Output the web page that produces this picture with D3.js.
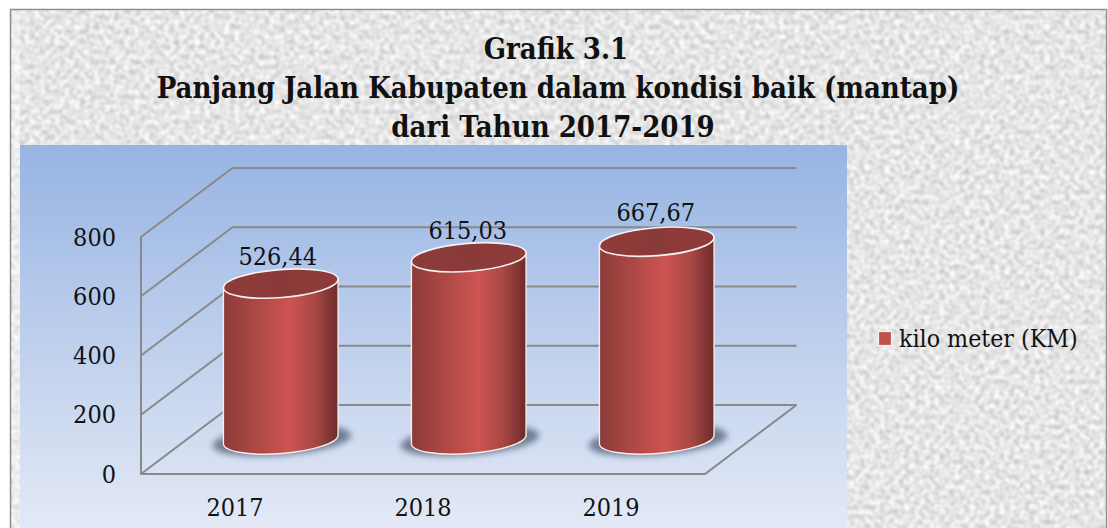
<!DOCTYPE html>
<html><head><meta charset="utf-8">
<script src="https://cdn.jsdelivr.net/npm/d3@7/dist/d3.min.js"></script>
<style>html,body{margin:0;padding:0;background:#fff;overflow:hidden}svg{display:block}
text{font-family:"DejaVu Serif Condensed","Liberation Serif",serif;fill:#111}</style></head><body>
<svg id="c" width="1108" height="528"></svg>
<script>
const titleLines = ["Grafik 3.1","Panjang Jalan Kabupaten dalam kondisi baik (mantap)","dari Tahun 2017-2019"];
const categories = ["2017","2018","2019"];
const values = [526.44,615.03,667.67];
const valueLabels = ["526,44","615,03","667,67"];
const yTicks = [0,200,400,600,800];
const seriesName = "kilo meter (KM)";

const svg = d3.select("#c"), defs = svg.append("defs");
const x0=141,x1=705,y0=474,y1=237,dx=91.5,dy=-69;
const y=d3.scaleLinear().domain([0,800]).range([y0,y1]);
const x=d3.scaleBand().domain(categories).range([x0,x1]);
const FF="'DejaVu Serif Condensed','Liberation Serif',serif";

// backgrounds
const tex=defs.append("filter").attr("id","tex").attr("x",0).attr("y",0).attr("width","100%").attr("height","100%").attr("color-interpolation-filters","sRGB");
tex.append("feTurbulence").attr("type","fractalNoise").attr("baseFrequency",0.2).attr("numOctaves",3).attr("seed",7);
tex.append("feColorMatrix").attr("values","0.42 0 0 0 0.69  0.42 0 0 0 0.69  0.42 0 0 0 0.69  0 0 0 0 1");
tex.append("feGaussianBlur").attr("stdDeviation",0.8);
const pg=defs.append("linearGradient").attr("id","panel").attr("x1",0).attr("y1",0).attr("x2",0).attr("y2",1);
pg.append("stop").attr("offset",0).attr("stop-color","#97b4e3");
pg.append("stop").attr("offset",1).attr("stop-color","#e3e9f6");
const bg=defs.append("linearGradient").attr("id","body");
[[0,"#8a3a38"],[.12,"#9a413e"],[.58,"#cd5451"],[.8,"#a84744"],[1,"#6b2b2a"]].forEach(s=>bg.append("stop").attr("offset",s[0]).attr("stop-color",s[1]));
const tg=defs.append("linearGradient").attr("id","top");
[[0,"#8e3c3a"],[.5,"#8a3a38"],[1,"#8f3c3a"]].forEach(s=>tg.append("stop").attr("offset",s[0]).attr("stop-color",s[1]));
defs.append("filter").attr("id","blur").attr("x","-30%").attr("y","-60%").attr("width","160%").attr("height","220%")
  .append("feGaussianBlur").attr("stdDeviation",3);

svg.append("rect").attr("x",10).attr("y",9).attr("width",1097).attr("height",530).attr("filter","url(#tex)");
svg.append("rect").attr("x",10.5).attr("y",9.5).attr("width",1096).attr("height",530).attr("fill","none").attr("stroke","#8e8e8e").attr("stroke-width",1.5);
svg.append("rect").attr("x",12).attr("y",11).attr("width",8).attr("height",520).attr("fill","#fff").attr("opacity",.35);
svg.append("rect").attr("x",20).attr("y",145).attr("width",827).attr("height",383).attr("fill","url(#panel)");

// title
const tx=[556,558,553], ty=[59,98,137];
svg.selectAll(".t").data(titleLines).join("text").attr("class","t")
  .attr("x",(d,i)=>tx[i]).attr("y",(d,i)=>ty[i]).attr("text-anchor","middle")
  .attr("font-size",29).attr("font-weight","bold").attr("fill","#000").text(d=>d);

// grid
const grid=svg.append("g").attr("fill","none").attr("stroke","#898989").attr("stroke-width",2);
grid.selectAll("path.g").data(yTicks).join("path").attr("class","g")
  .attr("d",v=>`M${x0},${y(v)}L${x0+dx},${y(v)+dy}H${x1+dx}`);
grid.append("path").attr("d",`M${x0},${y1}V${y0}H${x1}L${x1+dx},${y0+dy}`);

// axes
const ax=svg.append("g").attr("transform",`translate(${x0},0)`)
  .call(d3.axisLeft(y).tickValues(yTicks).tickSize(0).tickPadding(25));
const bx=svg.append("g").attr("transform",`translate(0,${y0})`)
  .call(d3.axisBottom(x).tickSize(0).tickPadding(24));
[ax,bx].forEach(a=>{a.select(".domain").remove();a.selectAll("text").attr("font-size",25).attr("font-family",FF).attr("fill","#111");});

// cylinders
const rx=57.5, ry=14, rot=-4.5, depth=0.5, rad=rot*Math.PI/180;
const cxOf=c=>x(c)+x.bandwidth()/2+dx*depth;
const base=v=>y(v)+dy*depth;
const hw=rx*Math.cos(rad), hh=rx*Math.sin(rad);
const nudgeX=[-3,-1,-1], nudgeY=[-19,-18,-21];
categories.forEach((c,i)=>{
  const cx=cxOf(c), yb=base(0), yt=base(values[i]);
  const g=svg.append("g");
  g.append("ellipse").attr("cx",cx+1).attr("cy",yb+1).attr("rx",rx+12).attr("ry",ry+1).attr("transform",`rotate(${rot} ${cx} ${yb})`)
    .attr("fill","#56657a").attr("opacity",.8).attr("filter","url(#blur)");
  g.append("path").attr("fill","url(#body)").attr("stroke","#f3eeee").attr("stroke-width",1.4)
    .attr("d",`M${cx-hw},${yt-hh}L${cx-hw},${yb-hh}A${rx},${ry} ${rot} 0 0 ${cx+hw},${yb+hh}L${cx+hw},${yt+hh}Z`);
  g.append("ellipse").attr("cx",cx).attr("cy",yt).attr("rx",rx).attr("ry",ry).attr("transform",`rotate(${rot} ${cx} ${yt})`)
    .attr("fill","url(#top)").attr("stroke","#f6f2f2").attr("stroke-width",1.6);
  svg.append("text").attr("x",cx+nudgeX[i]).attr("y",yt+nudgeY[i]).attr("text-anchor","middle").attr("font-size",25).text(valueLabels[i]);
});

// legend
svg.append("rect").attr("x",878.5).attr("y",331.5).attr("width",13).attr("height",14).attr("fill","#c0504d").attr("stroke","#f4f4f4").attr("stroke-width",1.2);
svg.append("text").attr("x",899).attr("y",347).attr("font-size",24.7).text(seriesName);
</script></body></html>
